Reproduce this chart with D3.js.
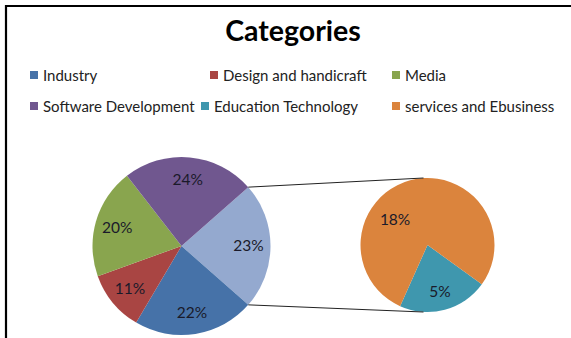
<!DOCTYPE html>
<html>
<head>
<meta charset="utf-8">
<script src="https://cdn.jsdelivr.net/npm/d3@7"></script>
<style>
  html, body { margin: 0; padding: 0; background: #fff; }
  svg { display: block; font-family: Lato, "Open Sans", sans-serif; }
</style>
</head>
<body>
<svg id="chart" width="571" height="338"></svg>
<script>
// Main pie: four named categories plus the grouped "Other" slice that is broken out
const mainCategories = ["Other", "Industry", "Design and handicraft", "Media", "Software Development"];
const mainValues = [23, 22, 11, 20, 24];
// Secondary pie: the breakdown of the grouped slice
const subCategories = ["Education Technology", "services and Ebusiness"];
const subValues = [5, 18];
// Legend order
const legendItems = ["Industry", "Design and handicraft", "Media",
                     "Software Development", "Education Technology", "services and Ebusiness"];

const colors = {
  "Industry": "#4672a8",
  "Design and handicraft": "#a94543",
  "Media": "#89a54e",
  "Software Development": "#70578f",
  "Education Technology": "#3f97ae",
  "services and Ebusiness": "#db843d",
  "Other": "#94a9cf"
};

const svg = d3.select("#chart");

// frame (top and left edges)
svg.append("path")
  .attr("d", "M6,338 V6 H571")
  .attr("fill", "none").attr("stroke", "#000").attr("stroke-width", 2.2);

// title
svg.append("text")
  .attr("x", 293).attr("y", 41)
  .attr("text-anchor", "middle")
  .attr("font-size", 28.5).attr("font-weight", "bold")
  .attr("fill", "#000")
  .text("Categories");

// legend
const legendPos = [[30, 75], [210, 75], [392, 75], [30, 106], [201, 106], [392, 106]];
const lg = svg.append("g").selectAll("g").data(legendItems).join("g")
  .attr("transform", (d, i) => `translate(${legendPos[i][0]},${legendPos[i][1]})`);
lg.append("rect").attr("x", 0).attr("y", -4).attr("width", 8).attr("height", 8)
  .attr("fill", d => colors[d]);
lg.append("text").attr("x", 13).attr("y", 5.5)
  .attr("font-size", 15).attr("fill", "#222").text(d => d);

const deg = Math.PI / 180;

// main pie, the "Other" slice centred on the right-hand side
const mainR = 89, mainC = [181.5, 246];
const otherSpan = mainValues[0] / d3.sum(mainValues) * 360;
const mainPie = d3.pie().sort(null)
  .startAngle((90 - otherSpan / 2) * deg)
  .endAngle((90 - otherSpan / 2 + 360) * deg);
const mainArcs = mainPie(mainValues);
const mainArc = d3.arc().innerRadius(0).outerRadius(mainR);
const mainLabelArc = d3.arc().innerRadius(67).outerRadius(67);

const gMain = svg.append("g").attr("transform", `translate(${mainC})`);
gMain.selectAll("path").data(mainArcs).join("path")
  .attr("d", mainArc)
  .attr("fill", (d, i) => colors[mainCategories[i]]);
gMain.selectAll("text").data(mainArcs).join("text")
  .attr("transform", d => `translate(${mainLabelArc.centroid(d)})`)
  .attr("text-anchor", "middle").attr("dy", "0.35em")
  .attr("font-size", 15.5).attr("fill", "#1a1a2a")
  .text(d => d.value + "%");

// secondary pie
const subR = 67, subC = [427.5, 245];
const eduSpan = subValues[0] / d3.sum(subValues) * 360;
const subStart = 165 - eduSpan / 2;
const subPie = d3.pie().sort(null)
  .startAngle(subStart * deg).endAngle((subStart + 360) * deg);
const subArcs = subPie(subValues);
const subArc = d3.arc().innerRadius(0).outerRadius(subR);

const gSub = svg.append("g").attr("transform", `translate(${subC})`);
gSub.selectAll("path").data(subArcs).join("path")
  .attr("d", subArc)
  .attr("fill", (d, i) => colors[subCategories[i]]);
const subLabelPos = [
  d => d3.arc().innerRadius(48).outerRadius(48).centroid(d),
  d => d3.arc().innerRadius(41).outerRadius(41).centroid({startAngle: d.startAngle - 0.65, endAngle: d.endAngle - 0.65})
];
gSub.selectAll("text").data(subArcs).join("text")
  .attr("transform", (d, i) => `translate(${subLabelPos[i](d)})`)
  .attr("text-anchor", "middle").attr("dy", "0.35em")
  .attr("font-size", 15.5).attr("fill", "#1a1a2a")
  .text(d => d.value + "%");

// connector lines from the ends of "Other" to the top and bottom of the secondary pie
const o = mainArcs[0];
const pt = (c, r, a) => [c[0] + r * Math.sin(a), c[1] - r * Math.cos(a)];
const topMain = pt(mainC, mainR, o.startAngle);
const botMain = pt(mainC, mainR, o.endAngle);
svg.append("line")
  .attr("x1", topMain[0]).attr("y1", topMain[1])
  .attr("x2", subC[0] - 4).attr("y2", subC[1] - subR)
  .attr("stroke", "#222").attr("stroke-width", 1);
svg.append("line")
  .attr("x1", botMain[0]).attr("y1", botMain[1])
  .attr("x2", subC[0] - 4).attr("y2", subC[1] + subR)
  .attr("stroke", "#222").attr("stroke-width", 1);
</script>
</body>
</html>
